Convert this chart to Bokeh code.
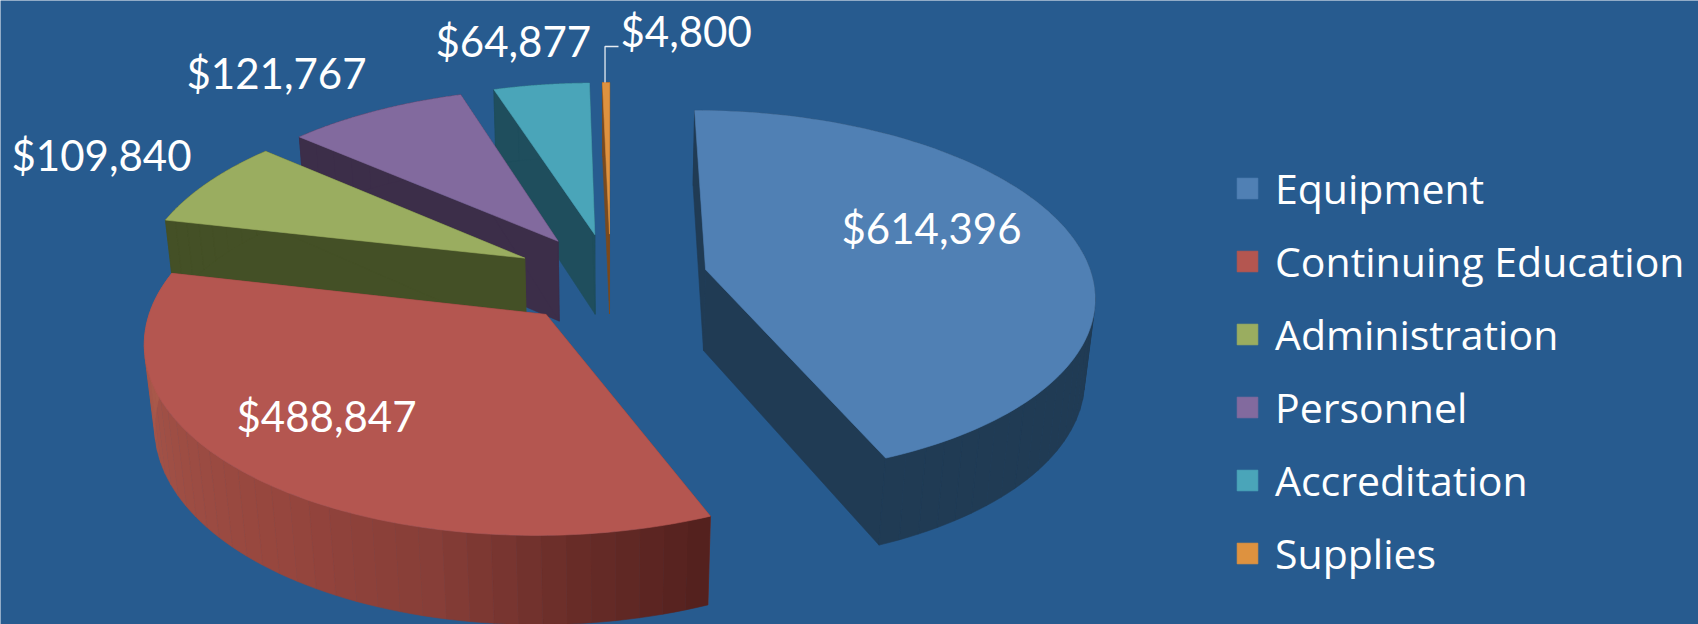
import numpy as np
from bokeh.plotting import figure
from bokeh.embed import file_html
from bokeh.resources import INLINE
from bokeh.models import Range1d, Legend, LegendItem, CustomJS, Label
from bokeh.events import DocumentReady

# ---- data ----
categories = ["Equipment", "Continuing Education", "Administration", "Personnel", "Accreditation", "Supplies"]
amounts = [614396, 488847, 109840, 121767, 64877, 4800]
amount_labels = ["$614,396", "$488,847", "$109,840", "$121,767", "$64,877", "$4,800"]

# ---- styling ----
BG = "#275B8F"
top_colors = ["#5080B4", "#B45650", "#9AAD60", "#826A9E", "#4AA5B9", "#DE923F"]
wall_colors = ["#203B54", "#7F3A36", "#445026", "#3C2E49", "#1F4E5D", "#7A4A1E"]
red_wall_stops = [(270, (170, 90, 75)), (245, (160, 80, 70)), (215, (150, 70, 62)),
                  (193, (135, 62, 56)), (175, (105, 45, 40)), (157.5, (82, 32, 30))]
FONT = "Lato"
LABEL_PT = "42px"
label_anchor = [(841, 242), (236, 430), (11, 169), (186, 87), (435, 55), (620, 45)]
LABEL_BASE_SHIFT = 15
draw_order = [5, 4, 3, 2, 0, 1]

# ---- 3D pie scene (perspective projection of the plane and its lower copy) ----
CX, CY, RX, RY = 610.0, 278.0, 387.0, 182.0
K, M, V = 0.13, 0.022, 83.0
EXPLODE = 0.252


def project(X, Y, low=False):
    X, Y = np.asarray(X, float), np.asarray(Y, float)
    d = 1 + K * Y + (M if low else 0)
    return CX + RX * X / d, CY - (RY * Y - (V if low else 0)) / d


total = sum(amounts)
sweeps = [a / total * 360.0 for a in amounts]
starts = np.concatenate([[0.0], np.cumsum(sweeps)[:-1]])

p = figure(width=1698, height=624, x_range=Range1d(0, 1698), y_range=Range1d(624, 0),
           output_backend="svg", toolbar_location=None, x_axis_type=None, y_axis_type=None,
           min_border=0, background_fill_color=BG, border_fill_color=BG, outline_line_color=None)
p.grid.visible = False


def slice_geom(i, t):
    mid = np.radians(starts[i] + sweeps[i] / 2)
    ox, oy = EXPLODE * np.sin(mid), EXPLODE * np.cos(mid)
    r = np.radians(t)
    return ox, oy, ox + np.sin(r), oy + np.cos(r)


def poly(fill, xs, ys):
    return p.patch(list(xs), list(ys), fill_color=fill, line_color=fill, line_width=0.6)


def lerp_red(t):
    ts = [s[0] for s in red_wall_stops][::-1]
    return "#%02X%02X%02X" % tuple(
        int(np.interp(t, ts, [s[1][c] for s in red_wall_stops][::-1])) for c in range(3))


legend_r = {}
for i in draw_order:
    a0, a1 = starts[i], starts[i] + sweeps[i]
    ts = np.linspace(a0, a1, 120)
    ox, oy, ax, ay = slice_geom(i, ts)
    for t_end in (a0, a1):
        _, _, ex, ey = slice_geom(i, t_end)
        tx, ty = project([ox, ex], [oy, ey])
        bx, by = project([ox, ex], [oy, ey], low=True)
        poly(wall_colors[i], [tx[0], tx[1], bx[1], bx[0]], [ty[0], ty[1], by[1], by[0]])
    # outer wall, as many small quads so that the swept silhouette is complete
    edges = np.linspace(a0, a1, max(3, int(sweeps[i] / 3)))
    wxs, wys, wcs = [], [], []
    for e0, e1 in zip(edges[:-1], edges[1:]):
        tt = np.linspace(e0, e1, 3)
        _, _, sx, sy = slice_geom(i, tt)
        tx, ty = project(sx, sy)
        bx, by = project(sx, sy, low=True)
        wxs.append(list(np.r_[tx, bx[::-1]]))
        wys.append(list(np.r_[ty, by[::-1]]))
        wcs.append(lerp_red((e0 + e1) / 2) if i == 1 else wall_colors[i])
    p.patches(wxs, wys, fill_color=wcs, line_color=wcs, line_width=0.6)
    # top face
    fx, fy = project(np.r_[ox, ax], np.r_[oy, ay])
    legend_r[i] = poly(top_colors[i], fx, fy)

# leader line of the smallest slice
_, _, lx, ly = slice_geom(5, starts[5] + sweeps[5] * 0.5)
px0, py0 = project(lx, ly)
p.line([float(px0) - 1, float(px0) - 1, label_anchor[5][0] - 2],
       [float(py0), label_anchor[5][1] + 1, label_anchor[5][1] + 1],
       line_color="#E6ECF2", line_width=1.3)

for txt, (tx, ty) in zip(amount_labels, label_anchor):
    p.add_layout(Label(x=tx, y=ty - LABEL_BASE_SHIFT, text=txt, text_color="#FFFFFF", text_font=FONT,
                       text_font_size=LABEL_PT, text_align="left", text_baseline="alphabetic"))

legend = Legend(items=[LegendItem(label=c, renderers=[legend_r[i]]) for i, c in enumerate(categories)],
                location=(1224, 33), orientation="vertical", background_fill_alpha=0, border_line_alpha=0,
                glyph_width=26, glyph_height=26, label_standoff=15, spacing=17, padding=10, margin=0,
                label_text_color="#FFFFFF", label_text_font="Open Sans", label_text_font_size="41px",
                label_height=26)
p.add_layout(legend, "center")

p.js_on_event(DocumentReady, CustomJS(code=(
    "document.body.style.margin='0';"
    f"document.body.style.background='{BG}';"
    f"document.documentElement.style.background='{BG}';"
    "document.documentElement.style.overflow='hidden';")))

open("out.html", "w").write(file_html(p, INLINE))
